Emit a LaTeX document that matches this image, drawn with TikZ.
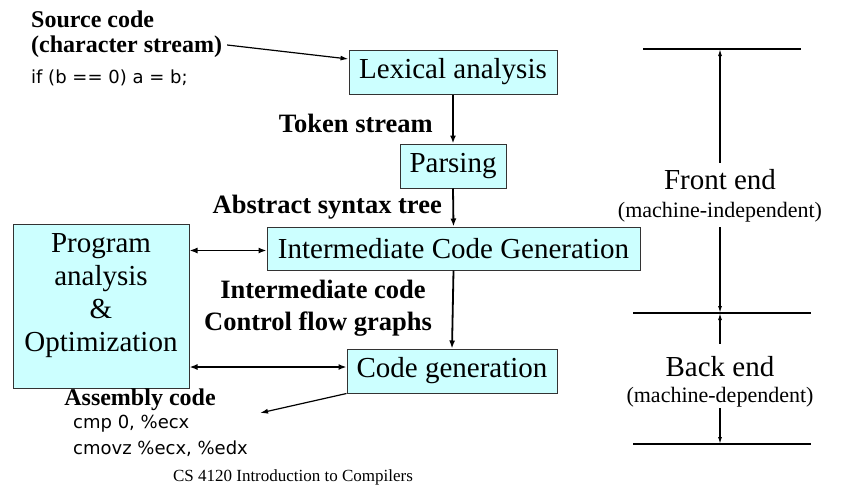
\documentclass[tikz,border=0pt]{standalone}
\usepackage{fontspec}
\setmainfont{Liberation Serif}
\newfontfamily\codefont{DejaVu Sans}
\usetikzlibrary{arrows.meta}
\definecolor{boxfill}{RGB}{204,255,255}
\definecolor{boxline}{RGB}{51,51,51}
\tikzset{
  stagebox/.style={draw=boxline, line width=1pt, fill=boxfill, inner sep=0pt,
    minimum height=44pt, font=\fontsize{29}{33}\selectfont},
  lbl/.style={inner sep=0pt, font=\fontsize{26.5}{30}\selectfont\bfseries},
  lbls/.style={inner sep=0pt, font=\fontsize{24}{28}\selectfont\bfseries},
  codetxt/.style={inner sep=0pt, anchor=west, font=\fontsize{18}{22}\selectfont\codefont},
  flow/.style={line width=1.8pt, -{Latex[length=8pt,width=6pt]}},
  dbl/.style={line width=1.5pt, {Latex[length=8pt,width=6pt]}-{Latex[length=8pt,width=6pt]}},
  thin/.style={line width=1.2pt, -{Latex[length=8pt,width=5pt]}},
  bar/.style={line width=1.5pt},
  dim/.style={line width=1.2pt, -{Latex[length=7pt,width=4pt]}},
  sidebig/.style={inner sep=0pt, font=\fontsize{29}{33}\selectfont},
  sidesmall/.style={inner sep=0pt, font=\fontsize{22}{26}\selectfont},
}
\begin{document}
\begin{tikzpicture}[x=1pt,y=-1pt]
\useasboundingbox (0,0) rectangle (844,488);
% stage boxes
\node[stagebox, minimum width=208pt] (lex) at (453,72) {Lexical analysis};
\node[stagebox, minimum width=106pt] (parse) at (453,166) {Parsing};
\node[stagebox, minimum width=373pt, minimum height=43pt] (icg) at (453.5,248.5) {Intermediate Code Generation};
\node[stagebox, minimum width=210pt] (cg) at (452,371) {Code generation};
\node[stagebox, minimum width=176pt, minimum height=164pt] (prog) at (101,306) {};
\node[inner sep=0pt, align=center, font=\fontsize{29}{33}\selectfont] (progtxt) at (101,296) {Program\\analysis\\\&\\Optimization};
% source text
\node[lbls, anchor=west] (src1) at (31,19) {Source code};
\node[lbls, anchor=west] (src2) at (31,47) {(character stream)};
\node[codetxt] (src3) at (31,78) {if (b == 0) a = b;};
% labels
\node[lbl, anchor=east] (tok) at (433,123) {Token stream};
\node[lbl, anchor=east] (ast) at (442,207) {Abstract syntax tree};
\node[lbl] (ic1) at (323,289) {Intermediate code};
\node[lbl] (ic2) at (318,324) {Control flow graphs};
\node[lbls] (asm) at (140,400) {Assembly code};
\node[codetxt] (asm1) at (73,424) {cmp 0, \%ecx};
\node[codetxt] (asm2) at (73,449) {cmovz \%ecx, \%edx};
\node[inner sep=0pt, font=\fontsize{17}{20}\selectfont] (foot) at (293,477) {CS 4120 Introduction to Compilers};
% connectors
\coordinate (srcstart) at ([xshift=5pt,yshift=2pt]src2.east);
\draw[thin] (srcstart) -- ([yshift=13pt]lex.west);
\draw[flow] (lex.south) -- (parse.north);
\draw[flow] (parse.south) -- (icg.north);
\draw[flow] (icg.south) -- (cg.north);
\draw[dbl] ([yshift=-2pt]prog.east |- icg.west) -- ([yshift=-2pt]icg.west);
\draw[dbl] ([yshift=4pt]prog.east |- cg.west) -- ([yshift=4pt]cg.west);
\coordinate (asmtip) at (260,413);
\draw[thin] (cg.south west) -- (asmtip);
% right side
\coordinate (t1) at (643,49); \coordinate (t2) at (801,49);
\coordinate (m1) at (633,313); \coordinate (m2) at (811,313);
\coordinate (b1) at (633,444); \coordinate (b2) at (811,444);
\draw[bar] (t1) -- (t2);
\draw[bar] (m1) -- (m2);
\draw[bar] (b1) -- (b2);
\node[sidebig] (fe) at (720,180) {Front end};
\node[sidesmall] (fe2) at (720,212) {(machine-independent)};
\node[sidebig] (be) at (720,367) {Back end};
\node[sidesmall] (be2) at (720,397) {(machine-dependent)};
\coordinate (fetop) at (720,49);
\coordinate (femid) at (720,313);
\coordinate (bebot) at (720,444);
\draw[dim] ([yshift=7pt]fe.north) -- (fetop);
\draw[dim] ([yshift=-5pt]fe2.south) -- (femid);
\draw[dim] ([yshift=13pt]be.north) -- (femid);
\draw[dim] ([yshift=-1pt]be2.south) -- (bebot);
\end{tikzpicture}
\end{document}
